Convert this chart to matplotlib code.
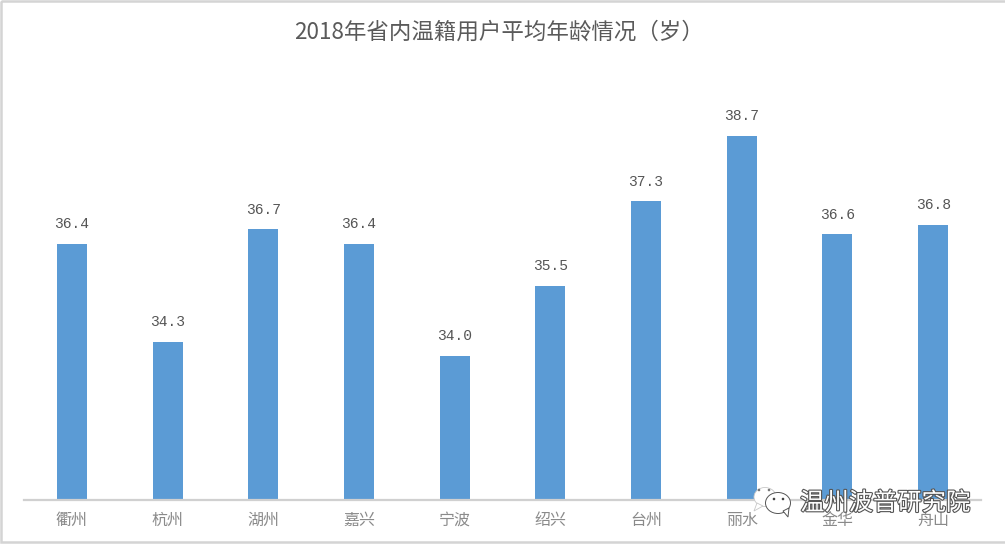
import matplotlib
matplotlib.use('Agg')
import matplotlib.pyplot as plt
from matplotlib.patches import Ellipse, Polygon, Rectangle
import matplotlib.patheffects as pe

W, H = 1005, 546
CJK = ['Noto Sans CJK SC', 'DejaVu Sans']

# --- data ---
cities = ['衢州', '杭州', '湖州', '嘉兴', '宁波', '绍兴', '台州', '丽水', '金华', '舟山']
ages = [36.4, 34.3, 36.7, 36.4, 34.0, 35.5, 37.3, 38.7, 36.6, 36.8]
title = '2018年省内温籍用户平均年龄情况（岁）'
watermark = '温州波普研究院'

plt.rcParams['font.family'] = CJK

fig = plt.figure(figsize=(W / 100, H / 100), dpi=100, facecolor='white')

# axes placed in pixels so the bars land where they do in the picture
left, right, top, bottom = 24, 981, 60, 499.5
ax = fig.add_axes([left / W, 1 - bottom / H, (right - left) / W, (bottom - top) / H])
x = range(len(cities))
ax.bar(x, ages, width=0.314, color='#5B9BD5')
ax.set_xlim(-0.5, len(cities) - 0.5)
ax.set_ylim(30.93, 30.93 + (bottom - top) / 46.8)

for s in ['top', 'left', 'right']:
    ax.spines[s].set_visible(False)
ax.spines['bottom'].set_color('#D0D0D0')
ax.spines['bottom'].set_linewidth(1.6)
ax.set_yticks([])
ax.set_xticks(list(x))
ax.set_xticklabels(cities, fontsize=11.5, color='#8A8A8A', fontweight='light')
ax.tick_params(axis='x', length=0, pad=9)

for i, v in zip(x, ages):
    ax.annotate(f'{v:.1f}', (i, v), xytext=(0, 14), textcoords='offset points',
                ha='center', va='center', fontsize=10.5, color='#555555',
                family=['Liberation Mono', 'DejaVu Sans'])

# overlay in pixel coordinates: title, picture border, watermark
ov = fig.add_axes([0, 0, 1, 1], facecolor='none')
ov.set_xlim(0, W)
ov.set_ylim(H, 0)
ov.axis('off')

ov.text(499, 32, title, ha='center', va='center', fontsize=16.2, color='#5A5A5A',
        fontweight='light')

ov.add_patch(Rectangle((1, 1), W + 5, H - 5, fill=False, ec='#D4D4D4', lw=1.8))

# WeChat style bubbles
ov.add_patch(Ellipse((765, 497), 22, 19, fc='white', ec='#C8C8C8', lw=0.6))
ov.add_patch(Polygon([(757, 503), (754, 511), (763, 506)], fc='white', ec='#C8C8C8', lw=0.6))
ov.add_patch(Ellipse((778, 503), 25, 21, fc='white', ec='#555555', lw=0.7))
ov.add_patch(Polygon([(783, 511), (788, 517), (789, 508)], fc='white', ec='#555555', lw=0.7))
for ex, ey, c in [(759, 490, '#777777'), (769, 490, '#777777'), (774, 499, '#444444'), (783, 499, '#444444')]:
    ov.add_patch(Ellipse((ex, ey), 2.6, 2.6, fc=c, ec='none'))

ov.text(885, 503, watermark, ha='center', va='center', fontsize=17.5, color='white',
        path_effects=[pe.withStroke(linewidth=1.6, foreground='#555555')])

fig.savefig('out.png', dpi=100)
